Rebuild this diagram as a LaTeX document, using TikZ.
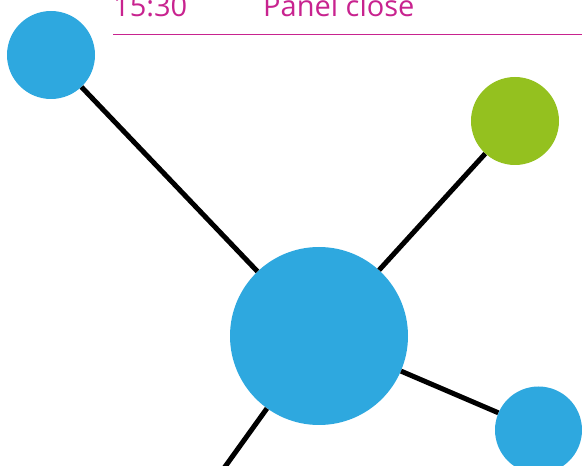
\documentclass[tikz,border=0pt]{standalone}
\usepackage{fontspec}
\setmainfont{Open Sans}
\definecolor{hubblue}{HTML}{2EA8DF}
\definecolor{hubgreen}{HTML}{94C11F}
\definecolor{panelpink}{HTML}{C8238F}
\tikzset{
  dot/.style={shape=circle,fill=#1,draw=none,inner sep=0pt},
  link/.style={line width=5pt,black},
  caption/.style={text=panelpink,font=\fontsize{29}{30}\selectfont,anchor=base west,inner sep=0pt}
}
\begin{document}
\begin{tikzpicture}[x=1pt,y=1pt]
            \useasboundingbox (0,0) rectangle (582,466);
            \clip (0,0) rectangle (582,466);
            % header
            \node[caption] (time) at (113,449) {15:30};
            \node[caption] (title) at (263,449) {Panel close};
            \coordinate (rulel) at (113,431);
            \coordinate (ruler) at (582,431);
            \draw[panelpink,line width=1pt] (rulel) -- (ruler);

            % vertices
            \node[dot=hubblue,minimum size=178pt] (hub) at (319,130) {};
            \node[dot=hubblue,minimum size=88pt] (v1) at (51,411) {};
            \node[dot=hubgreen,minimum size=88pt] (v2) at (515,345) {};
            \node[dot=hubblue,minimum size=87pt] (v3) at (538.5,36) {};
            \coordinate (v4) at (204,-30);

            % edges
            \draw[link] (hub) -- (v1);
            \draw[link] (hub) -- (v2);
            \draw[link] (hub) -- (v3);
            \draw[link] (hub) -- (v4);
        \end{tikzpicture}
\end{document}
